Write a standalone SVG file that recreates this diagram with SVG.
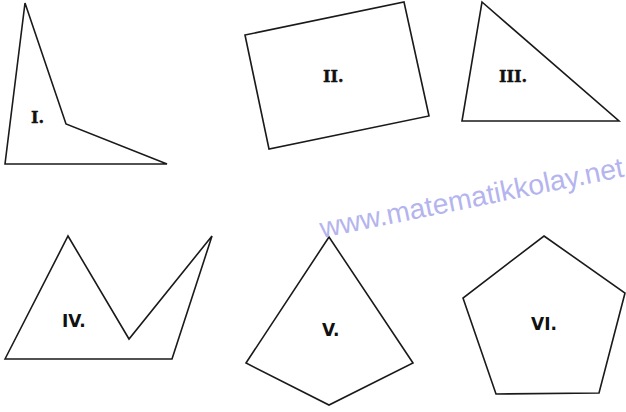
<svg xmlns="http://www.w3.org/2000/svg" width="626" height="412" viewBox="0 0 626 412">
<style>
.s{fill:#fff;stroke:#1a1a1a;stroke-width:1.6;stroke-linejoin:miter}
.ls{font-family:"DejaVu Serif","Liberation Serif",serif;font-weight:bold;font-size:16px;fill:#111;stroke:#111;stroke-width:0.4}
.la{font-family:"DejaVu Sans","Liberation Sans",sans-serif;font-weight:bold;font-size:17px;fill:#111}
.wm{font-family:"Liberation Sans",Arial,sans-serif;font-size:28.3px;fill:#b4b4ee}
</style>
<rect width="626" height="412" fill="#fff"/>
<g id="shape-I"><polygon class="s" points="25,3 66,124 167,164 5,164"/><text class="ls" x="31" y="123">I.</text></g>
<g id="shape-II"><polygon class="s" points="245,35 404,2 429,116 269,149"/><text class="ls" x="323" y="82">II.</text></g>
<g id="shape-III"><polygon class="s" points="482,2 619,121 462,121"/><text class="ls" x="499" y="82">III.</text></g>
<g id="shape-IV"><polygon class="s" points="5,359 68,236 129,339 212,236 172,359"/><text class="la" x="62" y="327">IV.</text></g>
<g id="shape-V"><polygon class="s" points="329,237 413,363 329,405 246,363"/><text class="la" x="322" y="336">V.</text></g>
<g id="shape-VI"><polygon class="s" points="544,236 625,293 599,393 496,394 463,298"/><text class="la" x="531" y="330">VI.</text></g>
<text class="wm" x="322" y="238" transform="rotate(-11.5 322 238)">www.matematikkolay.net</text>
</svg>
